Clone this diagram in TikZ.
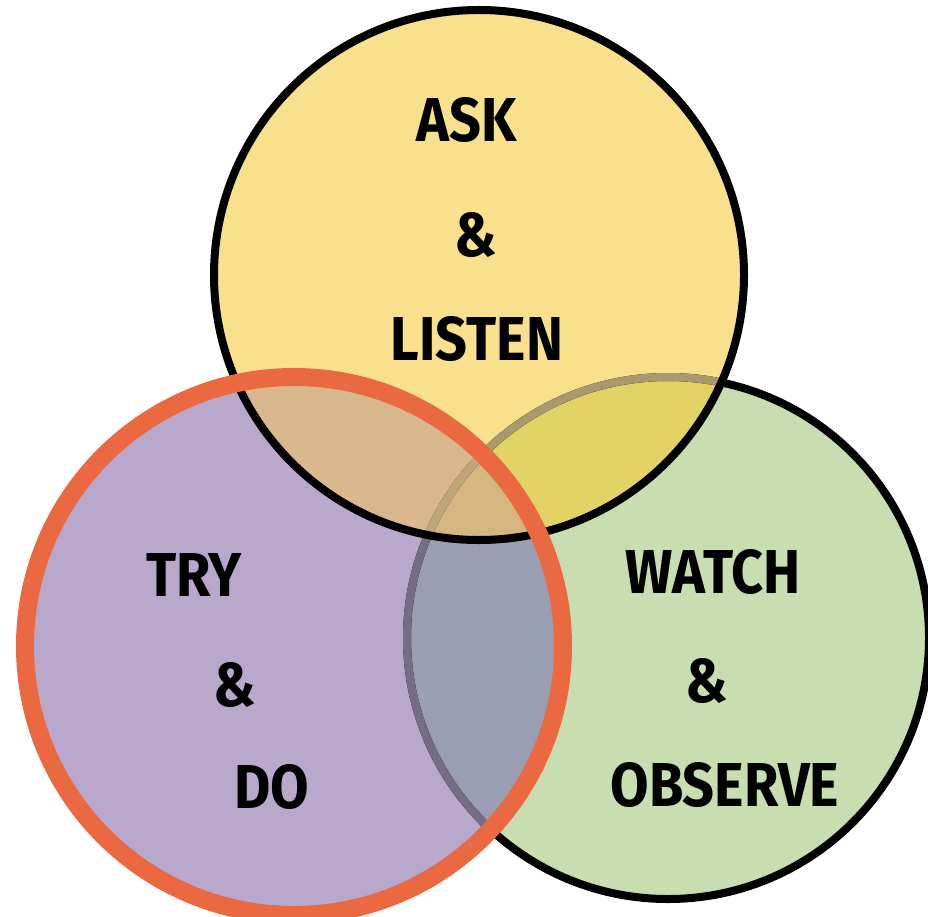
\documentclass[tikz,border=0pt]{standalone}
\usepackage{fontspec}
\setmainfont{Fira Sans}
\definecolor{VennYellow}{RGB}{249,224,140}
\definecolor{VennGreen}{RGB}{200,222,176}
\definecolor{VennPurple}{RGB}{184,168,204}
\definecolor{VennYP}{RGB}{218,184,142}
\definecolor{VennYG}{RGB}{226,212,100}
\definecolor{VennPG}{RGB}{154,158,178}
\definecolor{VennYPG}{RGB}{212,182,128}
\definecolor{VennLineY}{RGB}{170,152,110}
\definecolor{VennLineP}{RGB}{118,108,134}
\definecolor{VennLineYP}{RGB}{190,166,120}
\definecolor{VennOrange}{RGB}{234,105,64}
\newcommand{\handtext}[1]{\scalebox{0.9}[1]{\bfseries #1}}
\tikzset{
  venn/label/.style={inner sep=0pt, text=black, font=\fontsize{62}{62}\selectfont},
  venn/outline/.style={draw=black, line width=8pt},
  venn/ring/.style={draw=VennOrange, line width=18pt}
}

\begin{document}
\begin{tikzpicture}[x=1pt,y=-1pt]
  \useasboundingbox (0,0) rectangle (928,917);
  \coordinate (ask) at (479,275);
  \coordinate (watch) at (668,638);
  \coordinate (try) at (294,646);
  % plain fills
  \fill[VennGreen] (watch) circle (261);
  \fill[VennPurple] (try) circle (269);
  \fill[VennYellow] (ask) circle (265);
  % overlaps
  \begin{scope}
    \clip (watch) circle (261);
    \fill[VennPG] (try) circle (269);
    \fill[VennYG] (ask) circle (265);
  \end{scope}
  \begin{scope}
    \clip (ask) circle (265);
    \fill[VennYP] (try) circle (269);
    \clip (try) circle (269);
    \fill[VennYPG] (watch) circle (261);
  \end{scope}
  % green rim, seen through the others
  \draw[venn/outline] (watch) circle (261);
  \begin{scope}
    \clip (ask) circle (265);
    \draw[VennLineY,line width=8pt] (watch) circle (261);
  \end{scope}
  \begin{scope}
    \clip (try) circle (269);
    \draw[VennLineP,line width=8pt] (watch) circle (261);
    \clip (ask) circle (265);
    \draw[VennLineYP,line width=8pt] (watch) circle (261);
  \end{scope}
  \draw[venn/outline] (ask) circle (265);
  \draw[venn/ring] (try) circle (269);
  % labels
  \node[venn/label] (askword) at (467,120) {\handtext{ASK}};
  \node[venn/label] (askamp) at (476,235) {\handtext{\&}};
  \node[venn/label] (listen) at (477,339) {\handtext{LISTEN}};
  \node[venn/label] (tryword) at (194,575) {\handtext{TRY}};
  \node[venn/label] (tryamp) at (235,685) {\handtext{\&}};
  \node[venn/label] (doword) at (272,787) {\handtext{DO}};
  \node[venn/label] (watchword) at (713,572) {\handtext{WATCH}};
  \node[venn/label] (watchamp) at (707,681) {\handtext{\&}};
  \node[venn/label] (observe) at (725,785) {\handtext{OBSERVE}};
\end{tikzpicture}
\end{document}
